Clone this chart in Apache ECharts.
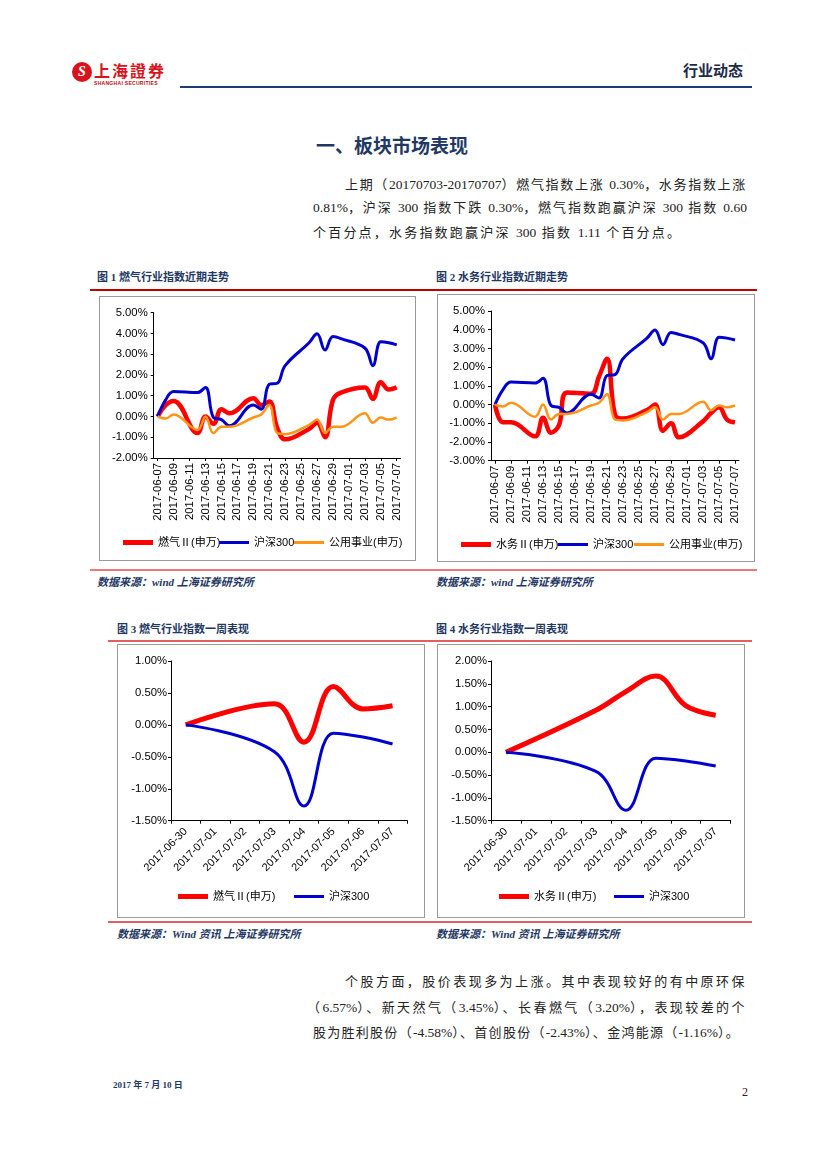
<!DOCTYPE html>
<html><head><meta charset="utf-8">
<script src="https://cdn.jsdelivr.net/npm/echarts@6/dist/echarts.min.js"></script>
<style>
body{margin:0;width:827px;height:1169px;background:#fff;position:relative;overflow:hidden;font-family:"Liberation Serif","Noto Sans CJK SC",serif;color:#1a1a1a;}
.a{position:absolute;white-space:nowrap;}
.p{position:absolute;height:18px;line-height:18px;font-size:13px;white-space:nowrap;font-family:"Liberation Serif","Noto Sans CJK SC",serif;color:#222;}
.p .n{letter-spacing:0 !important;font-family:"Liberation Serif",serif;font-size:13.5px;}
.ft{position:absolute;white-space:nowrap;font-size:11px;font-weight:bold;color:#1f3864;font-family:"Liberation Serif","Noto Sans CJK SC",serif;line-height:14px;}
.src{position:absolute;white-space:nowrap;font-size:11px;font-weight:bold;font-style:italic;color:#1f3864;font-family:"Liberation Serif","Noto Sans CJK SC",serif;line-height:14px;}
.box{position:absolute;border:1px solid #9a9a9a;box-sizing:border-box;}
.hl{position:absolute;}
</style></head>
<body>
<!-- header -->
<div class="a" style="left:72px;top:62px;width:20px;height:20px;border-radius:50%;background:#d7141e;color:#fff;font:italic bold 14px 'Liberation Serif';text-align:center;line-height:20px;">S</div>
<div class="a" style="left:94px;top:60px;font:bold 16px 'Noto Sans CJK TC','Noto Sans CJK SC';letter-spacing:2px;color:#d7141e;line-height:20px;">上海證券</div>
<div class="a" style="left:94px;top:80px;font:bold 5px 'Liberation Sans';color:#b01018;letter-spacing:0.3px;line-height:6px;">SHANGHAI SECURITIES</div>
<div class="a" style="left:683px;top:61px;font:bold 15px 'Noto Sans CJK SC';color:#1c2a48;line-height:18px;">行业动态</div>
<div class="hl" style="left:180px;top:86px;width:572px;height:2px;background:#1f3b73;"></div>

<div class="a" style="left:316px;top:134px;font:bold 19px 'Noto Sans CJK SC';color:#1f3864;line-height:22px;">一、板块市场表现</div>

<div class="p" data-w="402" style="left:345px;top:176px;">上期（20170703-20170707）燃气指数上涨 0.30%，水务指数上涨</div>
<div class="p" data-w="434" style="left:313px;top:199px;">0.81%，沪深 300 指数下跌 0.30%，燃气指数跑赢沪深 300 指数 0.60</div>
<div class="p" data-ls="2.2" style="left:313px;top:224px;">个百分点，水务指数跑赢沪深 300 指数 1.11 个百分点。</div>

<div class="ft" style="left:97px;top:270px;">图 1 燃气行业指数近期走势</div>
<div class="ft" style="left:436px;top:270px;">图 2 水务行业指数近期走势</div>
<div class="hl" style="left:90px;top:289px;width:667px;height:1.5px;background:#c00000;"></div>

<div class="box" id="c1" style="left:99px;top:296px;width:317px;height:265px;"></div>
<div class="box" id="c2" style="left:437px;top:294px;width:318px;height:268px;"></div>

<div class="hl" style="left:90px;top:569px;width:667px;height:1.5px;background:#e87a7a;"></div>
<div class="src" style="left:97px;top:575px;">数据来源：wind 上海证券研究所</div>
<div class="src" style="left:436px;top:575px;">数据来源：wind 上海证券研究所</div>

<div class="ft" style="left:117px;top:622px;">图 3 燃气行业指数一周表现</div>
<div class="ft" style="left:436px;top:622px;">图 4 水务行业指数一周表现</div>
<div class="hl" style="left:108px;top:640px;width:644px;height:1.5px;background:#e06060;"></div>

<div class="box" id="c3" style="left:117px;top:644px;width:308px;height:274px;"></div>
<div class="box" id="c4" style="left:437px;top:644px;width:308px;height:274px;"></div>

<div class="hl" style="left:108px;top:921px;width:644px;height:1.5px;background:#e06060;"></div>
<div class="src" style="left:117px;top:927px;">数据来源：Wind 资讯 上海证券研究所</div>
<div class="src" style="left:436px;top:927px;">数据来源：Wind 资讯 上海证券研究所</div>

<div class="p" data-w="402" style="left:345px;top:973px;">个股方面，股价表现多为上涨。其中表现较好的有中原环保</div>
<div class="p" data-w="440" style="left:307px;top:999px;">（6.57%）、新天然气（3.45%）、长春燃气（3.20%），表现较差的个</div>
<div class="p" data-w="427" style="left:313px;top:1024px;">股为胜利股份（-4.58%）、首创股份（-2.43%）、金鸿能源（-1.16%）。</div>

<div class="a" style="left:113px;top:1079px;font:bold 9px 'Liberation Serif','Noto Sans CJK SC';color:#1f3864;line-height:12px;">2017 年 7 月 10 日</div>
<div class="a" style="left:742px;top:1085px;font:12px 'Liberation Serif';color:#222;line-height:14px;">2</div>

<script>
// ---------- data ----------
const monthDays = ['2017-06-07','2017-06-08','2017-06-09','2017-06-10','2017-06-11','2017-06-12','2017-06-13','2017-06-14','2017-06-15','2017-06-16','2017-06-17','2017-06-18','2017-06-19','2017-06-20','2017-06-21','2017-06-22','2017-06-23','2017-06-24','2017-06-25','2017-06-26','2017-06-27','2017-06-28','2017-06-29','2017-06-30','2017-07-01','2017-07-02','2017-07-03','2017-07-04','2017-07-05','2017-07-06','2017-07-07'];
const monthTradeDays = ['2017-06-07','2017-06-08','2017-06-09','2017-06-12','2017-06-13','2017-06-14','2017-06-15','2017-06-16','2017-06-19','2017-06-20','2017-06-21','2017-06-22','2017-06-23','2017-06-26','2017-06-27','2017-06-28','2017-06-29','2017-06-30','2017-07-03','2017-07-04','2017-07-05','2017-07-06','2017-07-07'];
const gasMonth   = [0, 0.55, 0.75, -0.8, 0.0, -0.35, 0.35, 0.15, 0.88, 0.55, 0.72, -0.55, -1.1, -0.6, -0.3, -1.0, 0.8, 1.15, 1.4, 0.85, 1.65, 1.3, 1.4];
const waterMonth = [0, -0.95, -0.95, -1.7, -0.7, -1.5, -1.1, 0.65, 0.58, 1.5, 2.45, -0.55, -0.75, -0.3, 0.0, -1.4, -1.0, -1.75, -0.9, -0.45, -0.15, -0.8, -0.95];
const hs300Month = [0, 0.8, 1.2, 1.15, 1.4, -0.05, -0.15, -0.45, 0.55, 0.35, 1.55, 1.6, 2.45, 3.55, 3.98, 3.2, 3.85, 3.75, 3.3, 2.45, 3.6, 3.55, 3.45];
const utilMonth  = [0, -0.1, 0.1, -0.65, 0.0, -0.8, -0.5, -0.5, -0.05, 0.1, 0.55, -0.8, -0.85, -0.4, -0.15, -0.8, -0.5, -0.5, 0.15, -0.3, -0.05, -0.15, -0.05];

const weekDays = ['2017-06-30','2017-07-01','2017-07-02','2017-07-03','2017-07-04','2017-07-05','2017-07-06','2017-07-07'];
const weekTradeDays = ['2017-06-30','2017-07-03','2017-07-04','2017-07-05','2017-07-06','2017-07-07'];
const gasWeek   = [0, 0.33, -0.27, 0.60, 0.25, 0.30];
const waterWeek = [0, 0.92, 1.33, 1.67, 1.02, 0.81];
const hs300Week = [0, -0.42, -1.27, -0.13, -0.19, -0.30];

const NAME_GAS = '燃气Ⅱ(申万)', NAME_WATER = '水务Ⅱ(申万)', NAME_HS = '沪深300', NAME_UTIL = '公用事业(申万)';
const RED = '#ff0000', BLUE = '#0000cc', ORANGE = '#ff9417';
const FONT = '"Liberation Sans", Arial, "Noto Sans CJK SC", sans-serif';

// paragraph lines: ASCII runs unspaced, CJK spaced to fill the target width
document.querySelectorAll('.p').forEach(el=>{
  const txt = el.textContent;
  el.textContent = '';
  let cjk = 0;
  txt.split(/([\x21-\x7e]+)/).forEach((part, i)=>{
    if (!part) return;
    if (i % 2 === 1) { const s = document.createElement('span'); s.className = 'n'; s.textContent = part; el.appendChild(s); }
    else { el.appendChild(document.createTextNode(part)); cjk += [...part].length; }
  });
  if (el.dataset.w) {
    el.style.letterSpacing = '0px';
    const w = el.getBoundingClientRect().width;
    el.style.letterSpacing = ((+el.dataset.w - w) / cjk) + 'px';
  } else if (el.dataset.ls) {
    el.style.letterSpacing = el.dataset.ls + 'px';
  }
});

function pairs(days, vals){ return days.map((d,i)=>[d, vals[i]]); }

function makeChart(id, cfg){
  const chart = echarts.init(document.getElementById(id), null, {renderer:'canvas'});
  chart.setOption({
    animation:false,
    textStyle:{fontFamily:FONT},
    grid:cfg.grid,
    xAxis:{type:'category', data:cfg.cats, boundaryGap:true,
      axisLine:{onZero:false, lineStyle:{color:'#000', width:1}},
      axisTick:{show:true, length:3, alignWithLabel:cfg.tickAlign, interval:cfg.tickInterval, lineStyle:{color:'#000'}},
      axisLabel:{interval:cfg.labelInterval, rotate:cfg.rotate, fontSize:cfg.xFont, color:'#000', margin:cfg.labelMargin, fontFamily:FONT},
      splitLine:{show:false}},
    yAxis:{type:'value', min:cfg.yMin, max:cfg.yMax, interval:cfg.yInt,
      axisLine:{show:true, lineStyle:{color:'#000', width:1}},
      axisTick:{show:true, length:3, lineStyle:{color:'#000'}},
      axisLabel:{formatter:v=>v.toFixed(2)+'%', fontSize:11.3, color:'#000', margin:cfg.yMargin, fontFamily:FONT},
      splitLine:{show:false}},
    legend:cfg.series.map(s=>({data:[s.name], left:s.legLeft, top:cfg.legTop, icon:'rect', itemWidth:30, itemHeight:s.legH,
      padding:0, selectedMode:false, textStyle:{fontSize:11, color:'#000', fontFamily:FONT}})),
    series:cfg.series.map(s=>({type:'line', name:s.name, data:pairs(cfg.days, s.values), smooth:0.4,
      symbol:'none', lineStyle:{color:s.color, width:s.width}, itemStyle:{color:s.color}}))
  });
}

makeChart('c1', {cats:monthDays, days:monthTradeDays, grid:{left:53.7, top:15.7, right:14.3, bottom:102},
  yMin:-2, yMax:5, yInt:1, rotate:90, labelInterval:1, tickInterval:1, tickAlign:true, labelMargin:5, xFont:11.3, yMargin:6, legTop:240,
  series:[
    {name:NAME_GAS, values:gasMonth, color:RED, width:4.5, legLeft:23, legH:5},
    {name:NAME_HS, values:hs300Month, color:BLUE, width:3, legLeft:119, legH:3},
    {name:NAME_UTIL, values:utilMonth, color:ORANGE, width:2.5, legLeft:194, legH:3}
  ]});
makeChart('c2', {cats:monthDays, days:monthTradeDays, grid:{left:53, top:16, right:15, bottom:100.3},
  yMin:-3, yMax:5, yInt:1, rotate:90, labelInterval:1, tickInterval:1, tickAlign:true, labelMargin:5, xFont:11.3, yMargin:6, legTop:244,
  series:[
    {name:NAME_WATER, values:waterMonth, color:RED, width:4.5, legLeft:23, legH:5},
    {name:NAME_HS, values:hs300Month, color:BLUE, width:3, legLeft:120, legH:3},
    {name:NAME_UTIL, values:utilMonth, color:ORANGE, width:2.5, legLeft:196, legH:3}
  ]});
makeChart('c3', {cats:weekDays, days:weekTradeDays, grid:{left:53, top:16, right:16.7, bottom:96.3},
  yMin:-1.5, yMax:1, yInt:0.5, rotate:45, labelInterval:0, tickInterval:0, tickAlign:false, labelMargin:9, xFont:11, yMargin:4, legTop:246,
  series:[
    {name:NAME_GAS, values:gasWeek, color:RED, width:5, legLeft:60, legH:5},
    {name:NAME_HS, values:hs300Week, color:BLUE, width:3, legLeft:176, legH:3}
  ]});
makeChart('c4', {cats:weekDays, days:weekTradeDays, grid:{left:53, top:16, right:13.3, bottom:96.3},
  yMin:-1.5, yMax:2, yInt:0.5, rotate:45, labelInterval:0, tickInterval:0, tickAlign:false, labelMargin:9, xFont:11, yMargin:4, legTop:246,
  series:[
    {name:NAME_WATER, values:waterWeek, color:RED, width:5, legLeft:61, legH:5},
    {name:NAME_HS, values:hs300Week, color:BLUE, width:3, legLeft:176, legH:3}
  ]});
</script>
</body></html>
